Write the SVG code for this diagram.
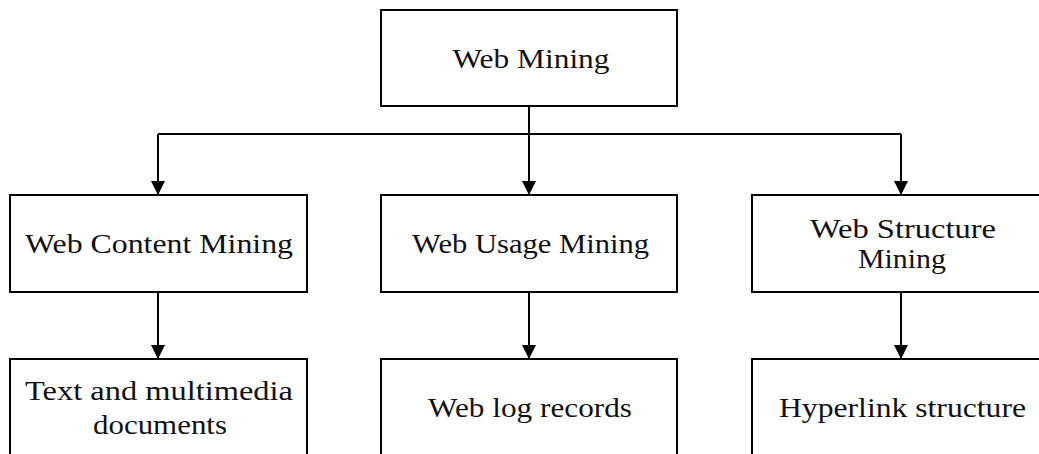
<svg xmlns="http://www.w3.org/2000/svg" width="1039" height="454" viewBox="0 0 1039 454">
<style>
.box{fill:#fff;stroke:#000;stroke-width:2}
.lbl{font-family:"Liberation Serif","Times New Roman",serif;font-size:27px;fill:#111;text-anchor:middle}
.con{fill:none;stroke:#000;stroke-width:2}
</style>
<defs>
<marker id="arr" markerUnits="userSpaceOnUse" markerWidth="16" markerHeight="14" refX="14" refY="7" orient="auto">
<path d="M0,0 L14,7 L0,14 Z" fill="#000"/>
</marker>
</defs>
<rect width="1039" height="454" fill="#fff"/>
<g id="connectors">
<path class="con" d="M529,106 V134"/>
<path class="con" d="M158,134 H901"/>
<path class="con" d="M158,134 V195" marker-end="url(#arr)"/>
<path class="con" d="M529,134 V195" marker-end="url(#arr)"/>
<path class="con" d="M901,134 V195" marker-end="url(#arr)"/>
<path class="con" d="M158,292 V359" marker-end="url(#arr)"/>
<path class="con" d="M529,292 V359" marker-end="url(#arr)"/>
<path class="con" d="M901,292 V359" marker-end="url(#arr)"/>
</g>
<g id="web-mining">
<rect class="box" x="381" y="10" width="296" height="96"/>
<text class="lbl" x="531" y="68" textLength="157" lengthAdjust="spacingAndGlyphs">Web Mining</text>
</g>
<g id="web-content-mining">
<rect class="box" x="10" y="195" width="297" height="97"/>
<text class="lbl" x="159" y="253" textLength="268" lengthAdjust="spacingAndGlyphs">Web Content Mining</text>
</g>
<g id="web-usage-mining">
<rect class="box" x="381" y="195" width="296" height="97"/>
<text class="lbl" x="530.5" y="253" textLength="237" lengthAdjust="spacingAndGlyphs">Web Usage Mining</text>
</g>
<g id="web-structure-mining">
<rect class="box" x="752" y="195" width="298" height="97"/>
<text class="lbl" x="903" y="238" textLength="186" lengthAdjust="spacingAndGlyphs">Web Structure</text>
<text class="lbl" x="902" y="268" textLength="88" lengthAdjust="spacingAndGlyphs">Mining</text>
</g>
<g id="text-multimedia">
<rect class="box" x="10" y="359" width="297" height="97"/>
<text class="lbl" x="159" y="400" textLength="268" lengthAdjust="spacingAndGlyphs">Text and multimedia</text>
<text class="lbl" x="160" y="434" textLength="134" lengthAdjust="spacingAndGlyphs">documents</text>
</g>
<g id="web-log-records">
<rect class="box" x="381" y="359" width="296" height="97"/>
<text class="lbl" x="530" y="417" textLength="204" lengthAdjust="spacingAndGlyphs">Web log records</text>
</g>
<g id="hyperlink-structure">
<rect class="box" x="752" y="359" width="298" height="97"/>
<text class="lbl" x="902.5" y="417" textLength="247" lengthAdjust="spacingAndGlyphs">Hyperlink structure</text>
</g>
</svg>
